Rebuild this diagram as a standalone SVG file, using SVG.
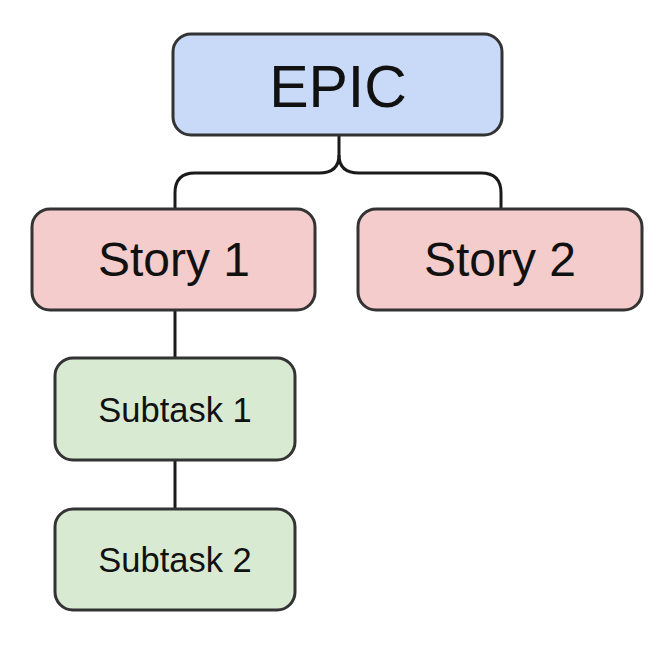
<svg xmlns="http://www.w3.org/2000/svg" width="672" height="654" viewBox="0 0 672 654">
<style>
.box{stroke:#333;stroke-width:3}
.epic{fill:#c9daf8}
.story{fill:#f4cccc}
.sub{fill:#d9ead3}
.t{font-family:"Liberation Sans",Arial,sans-serif;fill:#111;text-anchor:middle}
.c{fill:none;stroke:#1a1a1a;stroke-width:3}
</style>
<rect width="672" height="654" fill="#fff"/>
<g id="connectors">
<path class="c" d="M339,135 V155 Q339,173 319,173 H195 Q175,173 175,193 V209"/>
<path class="c" d="M339,155 Q339,173 359,173 H481 Q501,173 501,193 V209"/>
<path class="c" d="M175,310 V358"/>
<path class="c" d="M175,460 V509"/>
</g>
<g id="epic">
<rect class="box epic" x="173" y="34" width="329" height="101" rx="18"/>
<text class="t" x="338" y="107" font-size="59">EPIC</text>
</g>
<g id="story1">
<rect class="box story" x="32" y="209" width="283" height="101" rx="18"/>
<text class="t" x="174" y="276" font-size="48">Story 1</text>
</g>
<g id="story2">
<rect class="box story" x="358" y="209" width="284" height="101" rx="18"/>
<text class="t" x="500" y="276" font-size="48">Story 2</text>
</g>
<g id="subtask1">
<rect class="box sub" x="55" y="358" width="240" height="102" rx="18"/>
<text class="t" x="175" y="422" font-size="34.5">Subtask 1</text>
</g>
<g id="subtask2">
<rect class="box sub" x="55" y="509" width="240" height="101" rx="18"/>
<text class="t" x="175" y="572" font-size="34.5">Subtask 2</text>
</g>
</svg>
